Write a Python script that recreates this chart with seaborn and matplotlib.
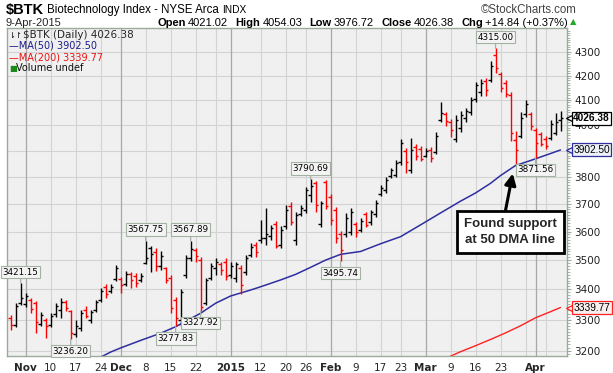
import matplotlib
matplotlib.use("Agg")
import matplotlib.pyplot as plt
import matplotlib.ticker as mticker
import matplotlib.transforms as mtrans
import numpy as np
import seaborn as sns

# daily bars, 29-Oct-2014 .. 9-Apr-2015 (trading day index 0..110)
opens = [3305, 3283, 3355, 3352, 3365, 3355, 3286, 3299, 3283, 3319,
         3332, 3358, 3328, 3254, 3273, 3332, 3299, 3332, 3365, 3408,
         3395, 3436, 3436, 3418, 3453, 3446, 3432, 3490, 3542, 3528,
         3480, 3473, 3439, 3365, 3299, 3449, 3507, 3535, 3500, 3355,
         3439, 3473, 3487, 3494, 3449, 3439, 3473, 3459, 3518, 3553,
         3571, 3578, 3585, 3627, 3553, 3620, 3692, 3571, 3664, 3678,
         3733, 3777, 3627, 3781, 3725, 3678, 3592, 3592, 3599, 3627,
         3606, 3664, 3635, 3664, 3737, 3751, 3803, 3807, 3856, 3898,
         3826, 3914, 3906, 3879, 3903, 3895, 4020, 4044, 4012, 3945,
         3988, 4028, 4052, 4104, 4133, 4178, 4182, 4287, 4207, 4170,
         4120, 3942, 3957, 4044, 4044, 3981, 3965, 3945, 3949, 3969,
         4021.02]
highs = [3315, 3355, 3421.15, 3388, 3372, 3362, 3325, 3305, 3322, 3355,
         3372, 3365, 3332, 3299, 3332, 3345, 3332, 3365, 3404, 3418,
         3418, 3483, 3442, 3463, 3459, 3456, 3456, 3567.75, 3549, 3542,
         3532, 3477, 3449, 3375, 3402, 3518, 3567.89, 3542, 3511, 3439,
         3490, 3507, 3494, 3507, 3494, 3494, 3483, 3518, 3560, 3563,
         3642, 3685, 3624, 3638, 3620, 3696, 3707, 3671, 3696, 3762,
         3790.69, 3785, 3711, 3788, 3737, 3689, 3602, 3667, 3685, 3635,
         3649, 3671, 3678, 3715, 3770, 3799, 3834, 3864, 3945, 3910,
         3949, 3926, 3918, 3910, 3914, 3973, 4092, 4052, 4024, 4040,
         4056, 4068, 4112, 4174, 4186, 4190, 4261, 4315.00, 4215, 4182,
         4133, 3977, 4052, 4100, 4052, 3988, 3973, 3957, 4020, 4048,
         4054.03]
lows = [3267, 3276, 3348, 3342, 3322, 3257, 3279, 3241, 3276, 3309,
        3305, 3328, 3236.20, 3244, 3263, 3305, 3289, 3325, 3358, 3372,
        3388, 3429, 3388, 3412, 3405, 3408, 3425, 3487, 3459, 3463,
        3466, 3422, 3322, 3277.83, 3279, 3439, 3497, 3494, 3327.92, 3348,
        3432, 3449, 3449, 3432, 3439, 3425, 3385, 3449, 3511, 3511,
        3560, 3553, 3571, 3542, 3542, 3609, 3624, 3553, 3656, 3667,
        3707, 3671, 3617, 3682, 3624, 3560, 3495.74, 3581, 3588, 3581,
        3599, 3617, 3624, 3653, 3729, 3740, 3796, 3799, 3845, 3814,
        3814, 3864, 3860, 3876, 3856, 3887, 4012, 3996, 3953, 3934,
        3973, 4012, 4040, 4092, 4116, 4116, 4174, 4211, 4133, 4112,
        3938, 3841, 3949, 4032, 3981, 3871.56, 3918, 3906, 3942, 3961,
        3976.72]
closes = [3283, 3345, 3372, 3378, 3335, 3292, 3315, 3279, 3312, 3345,
          3358, 3338, 3257, 3279, 3322, 3312, 3325, 3358, 3395, 3385,
          3408, 3473, 3415, 3453, 3432, 3422, 3446, 3507, 3521, 3480,
          3514, 3432, 3338, 3305, 3391, 3507, 3539, 3514, 3342, 3432,
          3480, 3494, 3466, 3446, 3480, 3487, 3415, 3507, 3546, 3528,
          3578, 3592, 3613, 3549, 3606, 3678, 3635, 3660, 3685, 3751,
          3766, 3696, 3703, 3692, 3642, 3578, 3535, 3649, 3671, 3599,
          3638, 3624, 3671, 3703, 3759, 3788, 3826, 3853, 3930, 3856,
          3903, 3879, 3868, 3898, 3872, 3957, 4048, 4016, 3981, 4020,
          4040, 4056, 4100, 4161, 4170, 4141, 4240, 4232, 4149, 4125,
          3969, 3903, 4028, 4084, 3996, 3930, 3926, 3918, 4004, 4011.54,
          4026.38]
close_before_first = 3300

ma50_idx = [18, 20, 22, 26, 30, 33, 38, 41, 44, 48, 50, 54, 57, 60, 63,
            66, 70, 74, 78, 82, 86, 90, 93, 96, 98, 101, 104, 107, 110]
ma50_val = [3180, 3196, 3209, 3233, 3256, 3277, 3321, 3354, 3378, 3398,
            3409, 3432, 3451, 3475, 3500, 3520, 3530, 3557, 3582, 3624,
            3667, 3710, 3740, 3776, 3805, 3843, 3862, 3882, 3902.50]
ma200_idx = [87, 90, 93, 96, 99, 102, 105, 108, 110]
ma200_val = [3176, 3197, 3216, 3236, 3257, 3280, 3306, 3326, 3339.77]

tick_idx = [3, 8, 13, 18, 22, 27, 32, 37, 44, 50, 55, 59, 64, 69, 74, 78,
            83, 88, 93, 98, 105]
tick_lbl = ["Nov", "10", "17", "24", "Dec", "8", "15", "22", "2015", "12",
            "20", "26", "Feb", "9", "17", "23", "Mar", "9", "16", "23", "Apr"]
month_idx = [3, 22, 44, 64, 83, 105]
week_idx = [8, 13, 18, 27, 32, 37, 41, 50, 55, 59, 69, 74, 78, 88, 93, 98,
            103, 107]

# callouts: (bar index, high or low)
callouts = [(2, "high"), (12, "low"), (27, "high"), (33, "low"), (36, "high"),
            (38, "low"), (60, "high"), (66, "low"), (97, "high"), (105, "low")]

yticks = [3200, 3300, 3400, 3500, 3600, 3700, 3800, 3900, 4000, 4100, 4200, 4300]
# 3900 sits fully under the MA(50) tag on the original
ytick_lbl = ["3200", "3300", "3400", "3500", "3600", "3700", "3800", "", "4000",
             "4100", "4200", "4300"]

sns.set_style("white")
plt.rcParams["font.family"] = ["DejaVu Sans"]

W, H = 613, 373
fig = plt.figure(figsize=(W / 100, H / 100), dpi=100)
ax = fig.add_axes([7.3 / W, 17 / H, 559.7 / W, 328 / H])
ax.set_facecolor("#f0f0f0")
ax.set_yscale("log")
ax.set_xlim(-0.68, 111.3)
ax.set_ylim(3183.5, 4402.5)

frame = "#9aab9a"
for s in ax.spines.values():
    s.set_color(frame)
    s.set_linewidth(1)

# grid
for v in yticks:
    ax.axhline(v, color="#d3d3d3", lw=0.8, zorder=0)
for w in week_idx:
    ax.axvline(w, color="#d3d3d3", lw=0.8, zorder=0)
for m in month_idx:
    ax.axvline(m, color="#a8a8a8", lw=0.9, zorder=0)

# OHLC bars
x = np.arange(len(closes))
prev = [close_before_first] + closes[:-1]
cols = ["#000000" if c >= p else "#ff0000" for c, p in zip(closes, prev)]
ax.vlines(x, lows, highs, colors=cols, lw=1.0, zorder=3)
ax.hlines(opens, x - 0.5, x, colors=cols, lw=1.0, zorder=3)
ax.hlines(closes, x, x + 0.5, colors=cols, lw=1.0, zorder=3)

# moving averages
sns.lineplot(x=ma50_idx, y=ma50_val, ax=ax, color="#2e2ea0", lw=1.1, zorder=2)
sns.lineplot(x=ma200_idx, y=ma200_val, ax=ax, color="#ff2020", lw=1.0, zorder=2)
ax.set_xlabel("")
ax.set_ylabel("")

# axes ticks
ax.yaxis.tick_right()
ax.set_yticks(yticks)
ax.set_yticklabels(ytick_lbl)
ax.yaxis.set_minor_locator(mticker.FixedLocator([v for v in range(3190, 4400, 10) if v % 100]))
ax.yaxis.set_minor_formatter(mticker.NullFormatter())
ax.tick_params(axis="y", which="major", length=3, color=frame, labelsize=7.5,
               pad=2, labelcolor="#222222")
ax.tick_params(axis="y", which="minor", length=2, color=frame)
ax.set_xticks(tick_idx)
ax.set_xticklabels(tick_lbl)
ax.xaxis.set_minor_locator(mticker.FixedLocator(x))
ax.tick_params(axis="x", which="major", length=3, color=frame, labelsize=7.5, pad=2)
ax.tick_params(axis="x", which="minor", length=2, color=frame)
for t in ax.get_xticklabels():
    if not t.get_text().isdigit() or t.get_text() == "2015":
        t.set_fontweight("bold")

# high / low callouts
for i, kind in callouts:
    val = highs[i] if kind == "high" else lows[i]
    off = 8 if kind == "high" else -8.5
    ax.annotate(f"{val:.2f}", xy=(i, val), xytext=(0, off), textcoords="offset points",
                ha="center", va="center", fontsize=6.3, color="black",
                bbox=dict(boxstyle="square,pad=0.2", fc="#f4f4f4", ec="#a3b1a3", lw=0.8),
                arrowprops=dict(arrowstyle="-", color="#a3b1a3", lw=0.9,
                                shrinkA=0, shrinkB=0),
                zorder=6)

# support note
ax.annotate("Found support\nat 50 DMA line", xy=(100.5, 3818), xycoords="data",
            xytext=(0.899, 0.378), textcoords="axes fraction", ha="center", va="center",
            fontsize=9.5, fontweight="bold", family="Liberation Sans", linespacing=1.4,
            bbox=dict(boxstyle="square,pad=0.55", fc="white", ec="black", lw=2),
            arrowprops=dict(arrowstyle="-|>,head_length=0.7,head_width=0.35", color="black",
                            lw=2.2, shrinkA=0, shrinkB=1, relpos=(0.43, 1.0)),
            zorder=7)

# right-side price tags
blend = mtrans.blended_transform_factory(ax.transAxes, ax.transData)
tags = [(closes[-1], "black", "white", "bold"),
        (ma50_val[-1], "#2e2ea0", "#eef0f8", "normal"),
        (ma200_val[-1], "#ff2020", "#f8eeee", "normal")]
for val, ec, fc, wt in tags:
    ax.plot([1.006], [val], marker="<", ms=6, mfc=fc, mec=ec, mew=0.9,
            transform=blend, clip_on=False, zorder=8)
    ax.annotate(f"{val:.2f}", xy=(1, val), xycoords=blend, xytext=(4.5, 0),
                textcoords="offset points", ha="left", va="center", fontsize=7.3,
                fontweight=wt, family="Liberation Sans", color="black",
                annotation_clip=False,
                bbox=dict(boxstyle="square,pad=0.15", fc=fc, ec=ec, lw=0.9), zorder=9)

# legend text inside plot
def px(xp, yp):
    return xp / W, 1 - yp / H

fig.text(*px(9, 35), "\u21c2\u21be", fontsize=6, va="center", color="black")
fig.text(*px(23, 35), "$BTK (Daily) 4026.38", fontsize=7.5, va="center")
fig.text(*px(9, 45.5), "\u2014MA(50) 3902.50", fontsize=7, va="center", color="#1c1c8c")
fig.text(*px(9, 57), "\u2014MA(200) 3339.77", fontsize=7, va="center", color="#ee1111")
fig.text(*px(9, 68), "\u25a0", fontsize=6, va="center", color="#1a8a1a")
fig.text(*px(16, 68), "Volume undef", fontsize=7, va="center", color="#111111")

# header, laid out piece by piece
hf = "Liberation Sans"
renderer = fig.canvas.get_renderer()


def run(x0, yp, pieces):
    xp = x0
    for s, size, wt, gap, col in pieces:
        t = fig.text(*px(xp, yp), s, fontsize=size, fontweight=wt, family=hf,
                     va="center", color=col)
        bb = t.get_window_extent(renderer)
        xp = bb.x1 + gap
    return xp


run(6, 10, [("$BTK", 10.5, "bold", 3, "black"),
            ("Biotechnology Index - NYSE Arca", 8.3, "normal", 3, "black"),
            ("INDX", 7.3, "normal", 0, "black")])
fig.text(*px(577, 10), "\u00a9StockCharts.com", fontsize=8.3, family=hf, va="center",
         ha="right", color="#444444")
fig.text(*px(6, 23), "9-Apr-2015", fontsize=8, family=hf, va="center")
end = run(157, 23, [("Open", 8, "bold", 2.5, "black"), ("4021.02", 8, "normal", 7, "black"),
                    ("High", 8, "bold", 2.5, "black"), ("4054.03", 8, "normal", 7, "black"),
                    ("Low", 8, "bold", 2.5, "black"), ("3976.72", 8, "normal", 7, "black"),
                    ("Close", 8, "bold", 2.5, "black"), ("4026.38", 8, "normal", 7, "black"),
                    ("Chg", 8, "bold", 2.5, "black"), ("+14.84 (+0.37%)", 8, "normal", 2, "black")])
fig.text(*px(end, 22), "\u25b2", fontsize=6, color="#22aa22", va="center", family="DejaVu Sans")

fig.savefig("out.png", dpi=100)
